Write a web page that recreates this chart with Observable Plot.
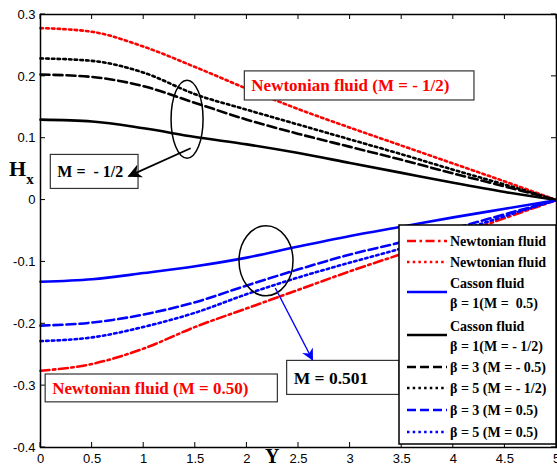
<!DOCTYPE html>
<html><head><meta charset="utf-8">
<script src="https://cdn.jsdelivr.net/npm/d3@7"></script>
<script src="https://cdn.jsdelivr.net/npm/@observablehq/plot@0.6"></script>
<style>body{margin:0;background:#fff;} #chart{position:relative;width:557px;height:467px;}</style>
</head><body><div id="chart"></div>
<script>
// ---- data ----
const Yvals = [0, 0.5, 1, 1.5, 2, 2.5, 3, 3.5, 4, 4.5, 5];
const newtonianNegHalf = [0.278, 0.272, 0.248, 0.215, 0.180, 0.147, 0.117, 0.088, 0.059, 0.030, 0];
const cassonB5Neg = [0.229, 0.225, 0.206, 0.171, 0.146, 0.122, 0.098, 0.074, 0.049, 0.025, 0];
const cassonB3Neg = [0.203, 0.199, 0.184, 0.157, 0.130, 0.107, 0.086, 0.065, 0.043, 0.022, 0];
const cassonB1Neg = [0.130, 0.127, 0.116, 0.102, 0.090, 0.076, 0.060, 0.044, 0.028, 0.013, 0];
const cassonB1Pos = [-0.132, -0.128, -0.118, -0.107, -0.093, -0.075, -0.058, -0.043, -0.028, -0.014, 0];
const cassonB3Pos = [-0.203, -0.198, -0.185, -0.165, -0.138, -0.112, -0.088, -0.068, -0.046, -0.023, 0];
const cassonB5Pos = [-0.228, -0.222, -0.205, -0.182, -0.152, -0.125, -0.101, -0.078, -0.053, -0.026, 0];
const newtonianPos = [-0.276, -0.265, -0.240, -0.205, -0.175, -0.145, -0.115, -0.087, -0.058, -0.029, 0];

const xTicks = [0, 0.5, 1, 1.5, 2, 2.5, 3, 3.5, 4, 4.5, 5];
const yTicks = [0.3, 0.2, 0.1, 0, -0.1, -0.2, -0.3, -0.4];

const legendLabels = [
  ["Newtonian fluid"],
  ["Newtonian fluid"],
  ["Casson fluid", "β = 1(M =  0.5)"],
  ["Casson fluid", "β = 1(M = - 1/2)"],
  ["β = 3 (M = - 0.5)"],
  ["β = 5 (M = - 1/2)"],
  ["β = 3 (M = 0.5)"],
  ["β = 5 (M = 0.5)"]
];

// styles
const DOT = "2.5,3.2", DASH = "9,4", DASHDOT = "9,3.5,2.5,3.5";
const series = [
  {values: newtonianPos, color: "#ff0000", dash: DASHDOT},
  {values: newtonianNegHalf, color: "#ff0000", dash: DOT},
  {values: cassonB1Pos, color: "#0000ff", dash: null},
  {values: cassonB1Neg, color: "#000000", dash: null},
  {values: cassonB3Neg, color: "#000000", dash: DASH},
  {values: cassonB5Neg, color: "#000000", dash: DOT},
  {values: cassonB3Pos, color: "#0000ff", dash: DASH},
  {values: cassonB5Pos, color: "#0000ff", dash: DOT}
];

const fmt = d => String(d);

const chart = Plot.plot({
  width: 557, height: 467,
  marginLeft: 40, marginRight: 1, marginTop: 14, marginBottom: 20,
  style: {fontFamily: "'Liberation Sans', Arial, sans-serif", fontSize: "13px", background: "#fff"},
  x: {domain: [0, 5], ticks: xTicks, tickFormat: fmt, label: null},
  y: {domain: [-0.4, 0.3], ticks: yTicks, tickFormat: fmt, label: null},
  marks: [
    Plot.axisX(xTicks, {tickSize: 0, tickPadding: 6, tickFormat: fmt, fontSize: 13}),
    Plot.axisY(yTicks, {tickSize: 0, tickPadding: 5, tickFormat: fmt, fontSize: 13}),
    ...series.map(s => Plot.line(Yvals.map((y, i) => ({Y: y, H: s.values[i]})), {
      x: "Y", y: "H", stroke: s.color, strokeWidth: 2.6,
      strokeDasharray: s.dash, curve: "monotone-x"
    })),
    Plot.frame({stroke: "black", strokeWidth: 1.5})
  ]
});
document.getElementById("chart").appendChild(chart);

const sx = chart.scale("x"), sy = chart.scale("y");
const X = v => sx.apply(v), Yp = v => sy.apply(v);
const svg = d3.select(chart);
const g = svg.append("g").attr("text-anchor", "start");

// inward ticks (box style)
const x0 = X(0), x1 = X(5), yTop = Yp(0.3), yBot = Yp(-0.4);
xTicks.forEach(t => {
  g.append("line").attr("x1", X(t)).attr("x2", X(t)).attr("y1", yBot).attr("y2", yBot - 5).attr("stroke", "black");
  g.append("line").attr("x1", X(t)).attr("x2", X(t)).attr("y1", yTop).attr("y2", yTop + 5).attr("stroke", "black");
});
yTicks.forEach(t => {
  g.append("line").attr("x1", x0).attr("x2", x0 + 5).attr("y1", Yp(t)).attr("y2", Yp(t)).attr("stroke", "black");
  g.append("line").attr("x1", x1).attr("x2", x1 - 5).attr("y1", Yp(t)).attr("y2", Yp(t)).attr("stroke", "black");
});

// axis titles
const serif = "'Liberation Serif', 'Times New Roman', serif";
const hx = g.append("text").attr("x", 9).attr("y", Yp(0.038)).attr("text-anchor", "start").attr("font-family", serif)
  .attr("font-weight", "bold").attr("font-size", 22).attr("fill", "black");
hx.append("tspan").text("H");
hx.append("tspan").attr("font-size", 15).attr("dy", 8).text("x");
g.append("text").attr("x", (X(2) + X(2.5)) / 2).attr("y", 463).attr("text-anchor", "middle")
  .attr("font-family", serif).attr("font-weight", "bold").attr("font-size", 20).text("Y");

// arrow markers
const defs = svg.append("defs");
[["arrBlack", "black", 14], ["arrBlue", "#0000ff", 12]].forEach(([id, c, s]) => {
  defs.append("marker").attr("id", id).attr("viewBox", "0 0 10 10").attr("refX", 9).attr("refY", 5)
    .attr("markerWidth", s).attr("markerHeight", s).attr("markerUnits", "userSpaceOnUse")
    .attr("orient", "auto").append("path").attr("d", "M0,0 L10,5 L0,10 L3,5 Z").attr("fill", c);
});

// annotation boxes (data-anchored), text left-aligned
function box(xa, xb, ya, yb, text, color, size) {
  g.append("rect").attr("x", X(xa)).attr("y", Yp(ya)).attr("width", X(xb) - X(xa)).attr("height", Yp(yb) - Yp(ya))
    .attr("fill", "white").attr("stroke", "#333").attr("stroke-width", 1.2);
  g.append("text").attr("x", X(xa) + 7).attr("y", (Yp(ya) + Yp(yb)) / 2).attr("dy", "0.35em")
    .attr("text-anchor", "start").attr("font-family", serif).attr("font-weight", "bold")
    .attr("font-size", size).attr("fill", color).text(text);
}
box(1.98, 4.205, 0.208, 0.161, "Newtonian fluid (M = - 1/2)", "#ff0000", 17);
box(0.05, 2.30, -0.282, -0.327, "Newtonian fluid (M = 0.50)", "#ff0000", 17);
box(0.10, 0.95, 0.073, 0.018, "M =  - 1/2", "black", 16);
box(2.39, 3.48, -0.26, -0.315, "M = 0.501", "black", 17.5);

// ellipses
g.append("ellipse").attr("cx", X(1.425)).attr("cy", Yp(0.130)).attr("rx", 16).attr("ry", 39)
  .attr("fill", "none").attr("stroke", "black").attr("stroke-width", 1.5);
g.append("ellipse").attr("cx", X(2.19)).attr("cy", Yp(-0.099)).attr("rx", 27).attr("ry", 35)
  .attr("fill", "none").attr("stroke", "black").attr("stroke-width", 1.5);

// arrows
g.append("line").attr("x1", X(1.46)).attr("y1", Yp(0.083)).attr("x2", X(0.86)).attr("y2", Yp(0.038))
  .attr("stroke", "black").attr("stroke-width", 1.8).attr("marker-end", "url(#arrBlack)");
g.append("line").attr("x1", X(2.28)).attr("y1", Yp(-0.143)).attr("x2", X(2.64)).attr("y2", Yp(-0.259))
  .attr("stroke", "#0000ff").attr("stroke-width", 1.4).attr("marker-end", "url(#arrBlue)");

// legend
const lg = g.append("g");
lg.append("rect").attr("x", 399).attr("y", 225).attr("width", 157).attr("height", 219)
  .attr("fill", "white").attr("stroke", "black").attr("stroke-width", 1.5);
const rowY = [241, 262, 283, 326, 367, 388, 410, 432];
const lineY = [241, 262, 292, 335, 367, 388, 410, 432];
legendLabels.forEach((lab, i) => {
  const s = series[i];
  lg.append("line").attr("x1", 407).attr("x2", 447).attr("y1", lineY[i]).attr("y2", lineY[i])
    .attr("stroke", s.color).attr("stroke-width", 2.6).attr("stroke-dasharray", s.dash);
  lab.forEach((t, j) => {
    lg.append("text").attr("x", 450).attr("y", rowY[i] + j * 20).attr("dy", "0.35em").attr("text-anchor", "start")
      .attr("font-family", serif).attr("font-weight", "bold").attr("font-size", 14).attr("fill", "black").text(t);
  });
});
</script>
</body></html>
